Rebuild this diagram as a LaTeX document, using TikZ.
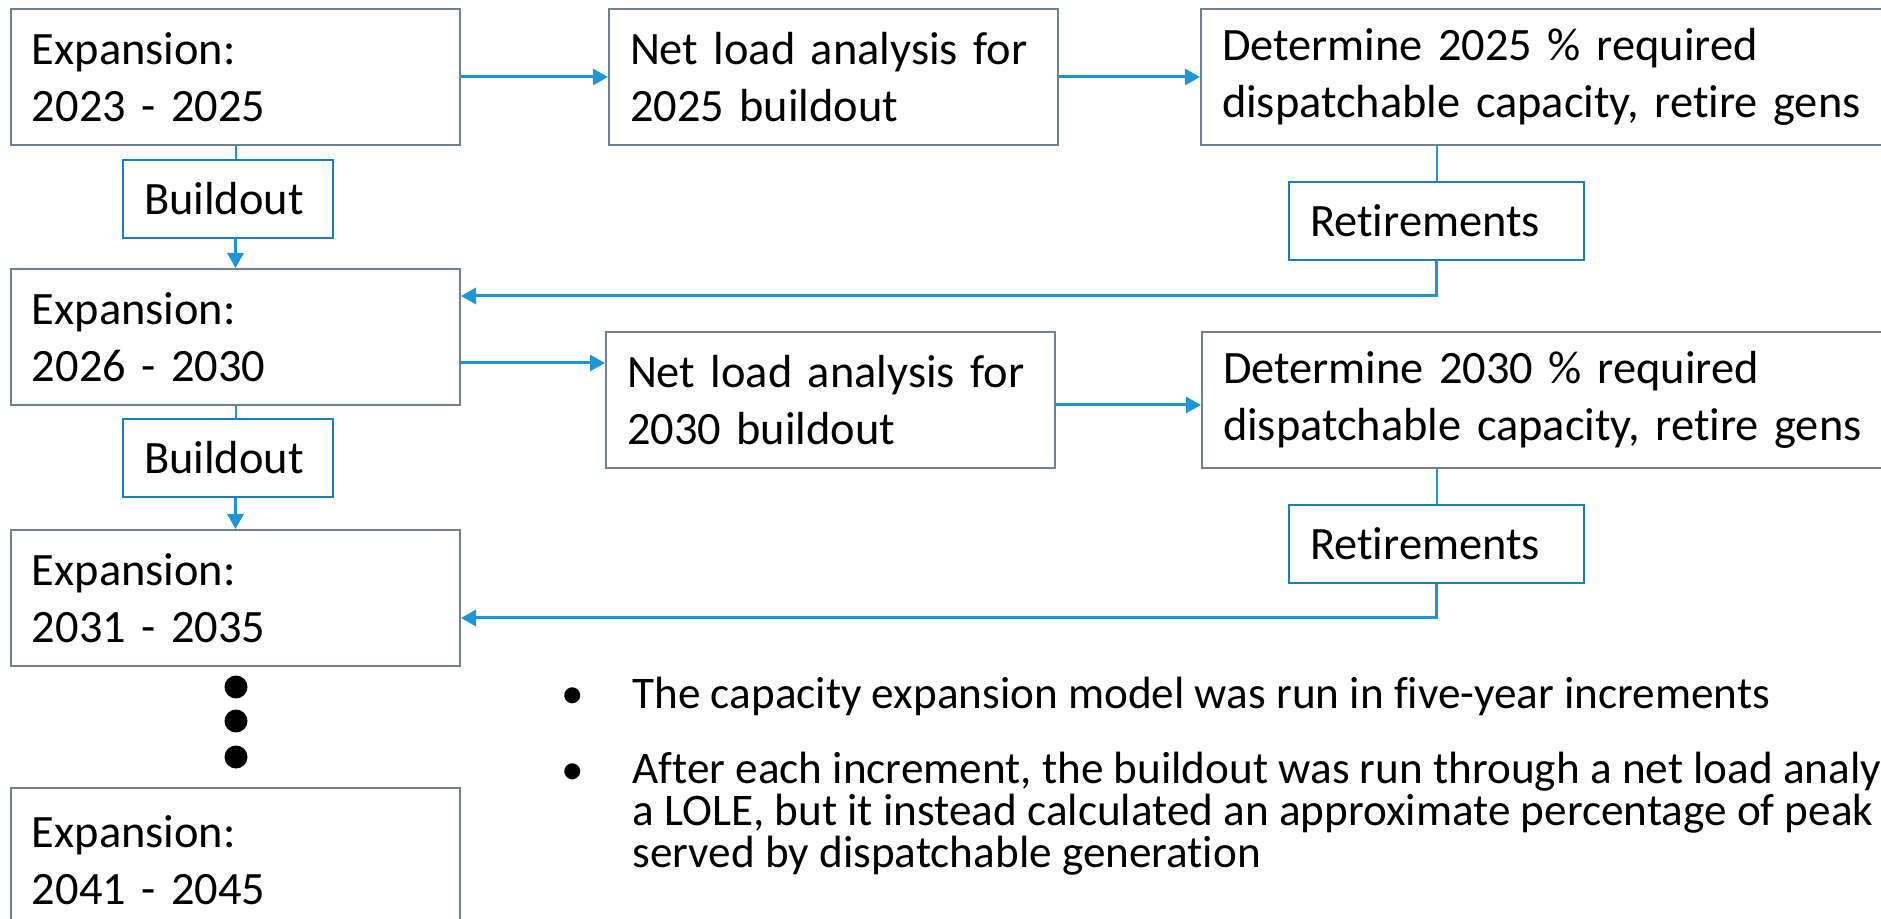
\documentclass[tikz,border=0pt]{standalone}
\usepackage{fontspec}
\setmainfont{Carlito}[Ligatures=NoCommon]
\usepackage{xcolor}
\usetikzlibrary{arrows.meta,positioning}

\definecolor{boxgray}{RGB}{112,128,140}
\definecolor{flowblue}{RGB}{28,150,214}
\definecolor{tagblue}{RGB}{24,126,190}

\begin{document}
\begin{tikzpicture}[
  x=0.5pt, y=-0.5pt,
  box/.style={draw=boxgray, line width=1pt, fill=white, align=left, anchor=north west,
    text width=203.5pt, minimum height=68pt, inner xsep=10.5pt, inner ysep=0pt,
    font=\fontsize{23.2}{28.5}\selectfont},
  widebox/.style={box, text width=380pt},
  tag/.style={draw=tagblue, line width=1pt, fill=white, align=left, anchor=north west,
    minimum height=39pt, inner xsep=10.5pt, inner ysep=0pt,
    font=\fontsize{23.2}{28.5}\selectfont},
  arrow/.style={-{Stealth[length=7.5pt, width=8pt, inset=0pt]}, draw=flowblue, line width=1.5pt},
  link/.style={draw=flowblue, line width=1pt},
  note/.style={anchor=north west, align=left, inner sep=0pt, font=\fontsize{22.6}{21}\selectfont},
  dot/.style={circle, fill=black, inner sep=0pt, minimum size=11.5pt},
]
\useasboundingbox (0,0) rectangle (1881,919);
\clip (0,0) rectangle (1881,919);

\node[box] (exp1) at (10,8) {Expansion:\\2023 - 2025};
\node[box] (exp2) at (10,268) {Expansion:\\2026 - 2030};
\node[box] (exp3) at (10,529) {Expansion:\\2031 - 2035};
\node[box, minimum height=72.5pt] (exp4) at (10,787) {Expansion:\\2041 - 2045};

\node[tag, text width=84pt] (bo1) at (122,159) {Buildout};
\node[tag, text width=84pt] (bo2) at (122,418) {Buildout};

\foreach \i/\y in {1/687,2/721,3/757}
  \node[dot] (gap\i) at (236,\y) {};

\node[box, right=73.5pt of exp1] (net1) {Net load analysis for\\2025 buildout};
\node[widebox, right=70.5pt of net1] (det1) {Determine 2025 \% required\\dispatchable capacity, retire gens};
\node[tag, text width=126.5pt] (ret1) at (1288,181) {Retirements};

\node[box, right=72pt of exp2, yshift=-31.5pt] (net2) {Net load analysis for\\2030 buildout};
\node[widebox, right=72.5pt of net2] (det2) {Determine 2030 \% required\\dispatchable capacity, retire gens};
\node[tag, text width=126.5pt] (ret2) at (1288,504) {Retirements};

\coordinate (e2out) at ([yshift=-13pt]exp2.east);

\draw[arrow] (exp1) -- (net1);
\draw[arrow] (net1) -- (det1);
\draw[arrow] (e2out) -- (e2out -| net2.west);
\draw[arrow] ([yshift=-2.5pt]net2.east) -- ([yshift=-2.5pt]det2.west);

\draw[link] (exp1.south) -- (exp1.south |- bo1.north);
\draw[arrow] (exp1.south |- bo1.south) -- (exp2.north);
\draw[link] (exp2.south) -- (exp2.south |- bo2.north);
\draw[arrow] (exp2.south |- bo2.south) -- (exp3.north);

\draw[link] (ret1.north |- det1.south) -- (ret1.north);
\draw[arrow] (ret1.south) |- ([yshift=-14pt]exp2.north east);
\draw[link] (ret2.north |- det2.south) -- (ret2.north);
\draw[arrow] (ret2.south) |- ([yshift=-44.5pt]exp3.north east);

\node[note, anchor=base] (bul1) at (573,708) {\textbullet};
\node[note, anchor=base west] (txt1) at (632,708) {The capacity expansion model was run in five-year increments};
\node[note, anchor=base] (bul2) at (573,784) {\textbullet};
\node[note] (txt2) at (632,752) {After each increment, the buildout was run through a net load analy\\a LOLE, but it instead calculated an approximate percentage of peak\\served by dispatchable generation};

\end{tikzpicture}
\end{document}
